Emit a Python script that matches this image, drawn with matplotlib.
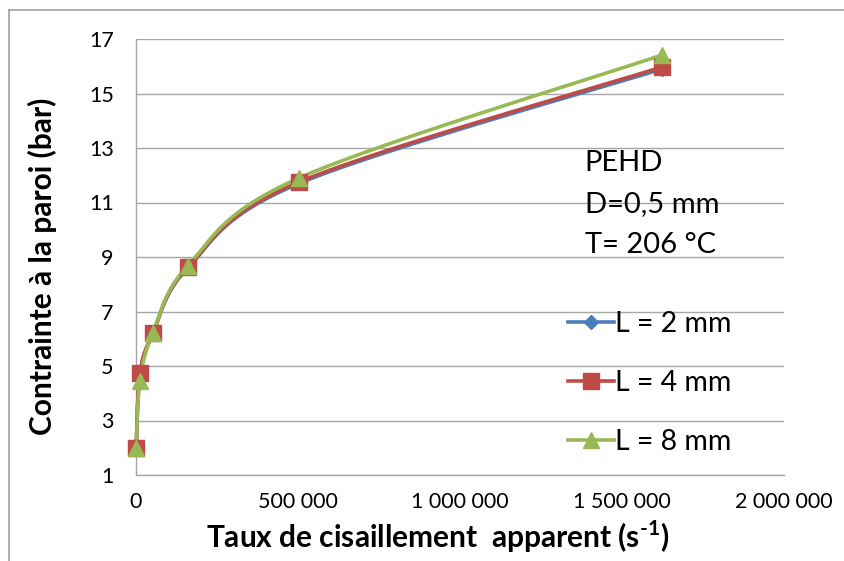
import numpy as np
import matplotlib
matplotlib.use("Agg")
import matplotlib.pyplot as plt
from matplotlib.lines import Line2D
from matplotlib.ticker import FuncFormatter

plt.rcParams['font.family'] = ['Lato', 'DejaVu Sans']
plt.rcParams['mathtext.fontset'] = 'custom'
plt.rcParams['mathtext.rm'] = 'Lato:bold'
plt.rcParams['mathtext.bf'] = 'Lato:bold'

shear_rate = [500, 12000, 52000, 160000, 503000, 1623000]
stress_L2 = [2.0, 4.6, 6.2, 8.6, 11.7, 15.9]
stress_L4 = [2.0, 4.74, 6.2, 8.62, 11.75, 15.97]
stress_L8 = [2.0, 4.45, 6.22, 8.68, 11.9, 16.41]
labels = ["L = 2 mm", "L = 4 mm", "L = 8 mm"]
colors = ["#4A7EBB", "#BE4B48", "#98B954"]
markers = ["D", "s", "^"]
msizes = [7, 11, 11]

fig = plt.figure(figsize=(8.44, 5.61), dpi=100)
ax = fig.add_axes([136/844, 1-475/561, (784-136)/844, (475-39)/561])
ax.set_xlim(0, 2000000)
ax.set_ylim(1, 17)

def smooth(xs, ys, n=40):
    # Excel-like bezier smoothing computed in axis-pixel space
    X = np.asarray(xs, float) / 2000000.0 * 648
    Y = (np.asarray(ys, float) - 1) / 16.0 * 436
    P = np.column_stack([X, Y])
    out = []
    m = len(P)
    for i in range(m - 1):
        p0 = P[i - 1] if i > 0 else P[i]
        p1 = P[i]
        p2 = P[i + 1]
        p3 = P[i + 2] if i + 2 < m else P[i + 1]
        c1 = p1 + (p2 - p0) / 6.0
        c2 = p2 - (p3 - p1) / 6.0
        t = np.linspace(0, 1, n)[:, None]
        seg = ((1 - t) ** 3) * p1 + 3 * ((1 - t) ** 2) * t * c1 + 3 * (1 - t) * t ** 2 * c2 + t ** 3 * p2
        out.append(seg if i == 0 else seg[1:])
    S = np.vstack(out)
    return S[:, 0] / 648 * 2000000, S[:, 1] / 436 * 16 + 1

series = [stress_L2, stress_L4, stress_L8]
for ys, lab, c, mk, ms in zip(series, labels, colors, markers, msizes):
    sx, sy = smooth(shear_rate, ys)
    ax.plot(sx, sy, color=c, lw=2.6, zorder=3, solid_capstyle='round', clip_on=False)
    ax.plot(shear_rate, ys, linestyle='none', marker=mk, color=c, markersize=ms, zorder=4, clip_on=False)

ax.set_yticks(range(1, 18, 2))
ax.set_xticks([0, 500000, 1000000, 1500000, 2000000])
ax.xaxis.set_major_formatter(FuncFormatter(lambda v, p: f"{int(v):,}".replace(",", " ")))
ax.grid(axis='y', color='#A6A6A6', lw=1)
ax.set_axisbelow(True)
for s in ['top', 'right']:
    ax.spines[s].set_visible(False)
for s in ['left', 'bottom']:
    ax.spines[s].set_color('#A6A6A6')
    ax.spines[s].set_linewidth(1)
ax.tick_params(axis='both', length=0, labelsize=15.5, colors='black')
ax.tick_params(axis='y', pad=16)
ax.tick_params(axis='x', pad=12)

ax.set_xlabel("Taux de cisaillement  apparent (s$^{\\text{-1}}$)", fontsize=21.5, fontweight='bold', va='center')
ax.set_ylabel("Contrainte à la paroi (bar)", fontsize=21.5, fontweight='bold', va='center')
ax.xaxis.set_label_coords((438 - 136) / 648, -(537 - 475) / 436)
ax.yaxis.set_label_coords(-(136 - 42) / 648, 1 - (266 - 39) / 436)

tx = 1385000
ax.text(tx, 12.45, "PEHD", fontsize=21, va='center')
ax.text(tx, 10.95, "D=0,5 mm", fontsize=21, va='center')
ax.text(tx, 9.45, "T= 206 °C", fontsize=21, va='center')

handles = [Line2D([0], [0], color=c, marker=mk, markersize=ms, lw=2.6) for c, mk, ms in zip(colors, markers, msizes)]
leg = ax.legend(handles, labels, loc='upper left', bbox_to_anchor=(554/844, 1-297/561),
                bbox_transform=fig.transFigure, frameon=False, fontsize=20.5,
                labelspacing=1.15, handlelength=1.6, handletextpad=0.05, borderpad=0)

# outer chart frame (left and top visible)
fig.add_artist(Line2D([9/844, 9/844], [0, 1-10/561], transform=fig.transFigure, color='#A0A0A0', lw=1.2))
fig.add_artist(Line2D([9/844, 1], [1-10/561, 1-10/561], transform=fig.transFigure, color='#A0A0A0', lw=1.2))

fig.savefig("out.png", dpi=100)
